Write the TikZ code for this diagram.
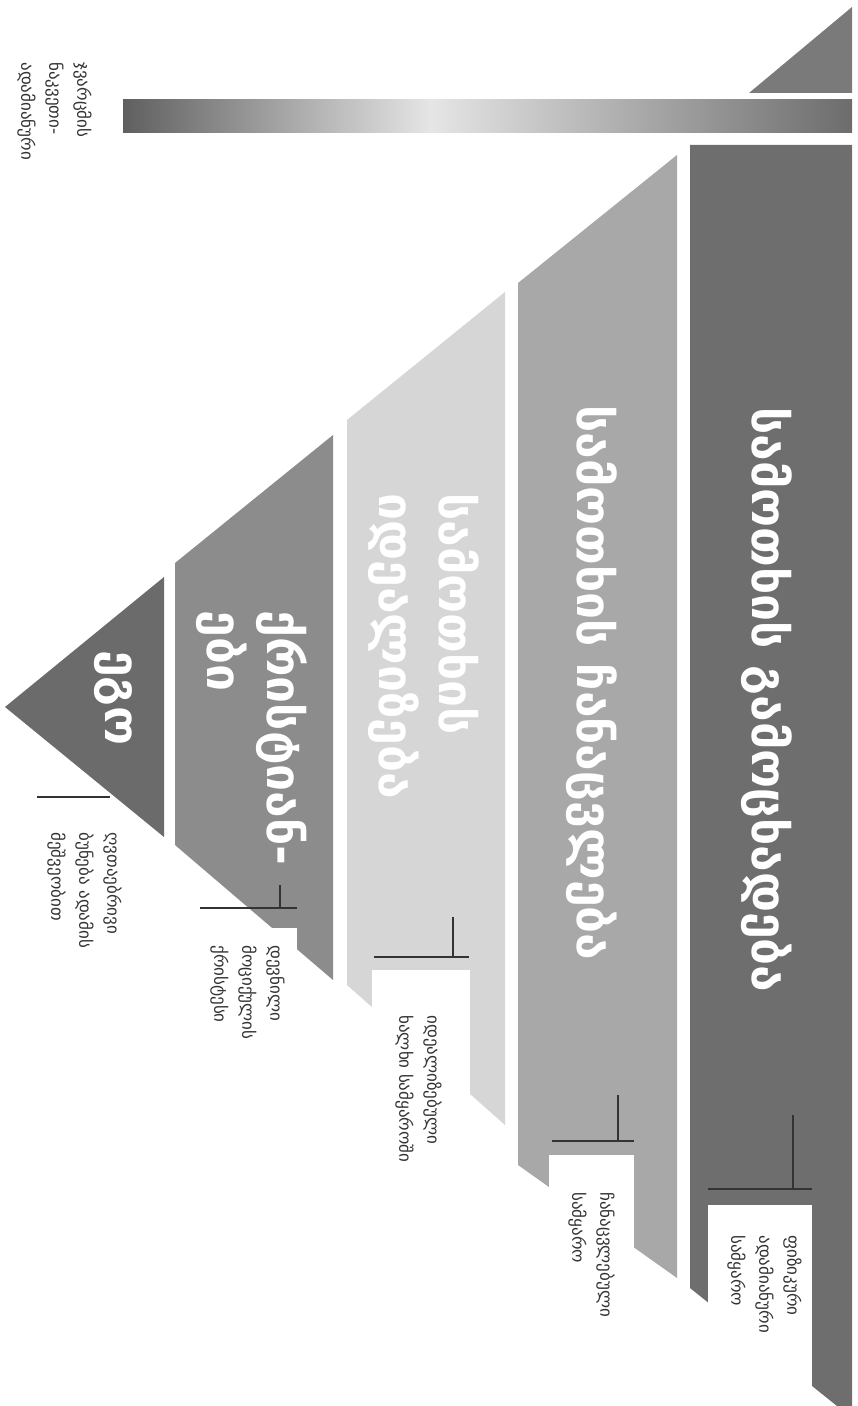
\documentclass[tikz,border=0pt]{standalone}
\usepackage{fontspec}
\setmainfont{DejaVu Sans}
\usetikzlibrary{positioning}
\definecolor{bandA}{gray}{0.42}
\definecolor{bandB}{gray}{0.55}
\definecolor{bandC}{gray}{0.84}
\definecolor{bandD}{gray}{0.66}
\definecolor{bandE}{gray}{0.43}
\definecolor{capgray}{gray}{0.48}
\definecolor{inkgray}{gray}{0.2}
\begin{document}
\begin{tikzpicture}[x=0.5pt,y=-0.5pt,
    lbl/.style={rotate=-90,text=white,font=\bfseries\fontsize{24}{30}\selectfont,align=left,inner sep=0pt},
    note/.style={rotate=-90,anchor=north west,align=left,text=inkgray,font=\fontsize{8.5}{14}\selectfont,inner sep=0pt},
    hook/.style={draw=inkgray,line width=1pt}]
\useasboundingbox (0,0) rectangle (857,1406);

\fill[capgray] (749,93) -- (852,7) -- (852,93) -- cycle;
\shade[left color=gray!75!black, right color=gray!20] (123,100) rectangle (431,133);
\shade[left color=gray!20, right color=gray!85!black] (430,100) rectangle (852,133);

\fill[bandE] (690,145) -- (852,145) -- (852,1406) -- (837,1406) -- (690,1288) -- cycle;
\fill[bandD] (518,283) -- (677,155) -- (677,1278) -- (518,1165) -- cycle;
\fill[bandC] (347,420) -- (505,292) -- (505,1125) -- (347,985) -- cycle;
\fill[bandB] (175,563) -- (333,435) -- (333,980) -- (175,845) -- cycle;
\fill[bandA] (5,707) -- (164,577) -- (164,837) -- cycle;

\fill[white] (708,1205) rectangle (812,1406);
\fill[white] (549,1155) rectangle (634,1406);
\fill[white] (372,970) rectangle (470,1406);
\fill[white] (200,928) rectangle (297,1406);

\node[lbl] (god) at (113,698) {ეგო};
\node[lbl,anchor=north west] (christ) at (308,610) {ქრისტიან-\\ები};
\node[lbl,anchor=north west] (ideal) at (480,493) {სამოთხის\\იდეალიზება};
\node[lbl] (subst) at (592,683) {სამოთხის ჩანაცვლება};
\node[lbl] (reveal) at (767,700) {სამოთხის გამოცხადება};

\node[note] (n1) at (122,832) {ღვთაებრივი\\ბუნება ადამის\\მეშვეობით};
\node[note] (n2) at (285,945) {დევნილი\\მოციქულის\\ქრისტესი};
\node[note] (n3) at (442,1015) {იდეალიზებული\\ხალხი სამყაროში};
\node[note] (n4) at (615,1192) {ჩანაცვლებული\\სამყარო};
\node[note] (n5) at (802,1235) {ფიზიკური\\ადამიანური\\სამყარო};
\node[note] (side) at (92,62) {ჯვარცმის\\ნაკვეთი-\\ადამიანური};

\coordinate (h1a) at (37,797);   \coordinate (h1b) at (110,797);
\coordinate (h2a) at (200,908);  \coordinate (h2b) at (297,908);  \coordinate (v2) at (280,885);
\coordinate (h3a) at (374,957);  \coordinate (h3b) at (469,957);  \coordinate (v3) at (453,917);
\coordinate (h4a) at (552,1141); \coordinate (h4b) at (634,1141); \coordinate (v4) at (618,1095);
\coordinate (h5a) at (708,1189); \coordinate (h5b) at (812,1189); \coordinate (v5) at (793,1115);

\draw[hook] (h1a) -- (h1b);
\draw[hook] (h2a) -- (h2b) (v2) -- (v2 |- h2a);
\draw[hook] (h3a) -- (h3b) (v3) -- (v3 |- h3a);
\draw[hook] (h4a) -- (h4b) (v4) -- (v4 |- h4a);
\draw[hook] (h5a) -- (h5b) (v5) -- (v5 |- h5a);
\end{tikzpicture}
\end{document}
